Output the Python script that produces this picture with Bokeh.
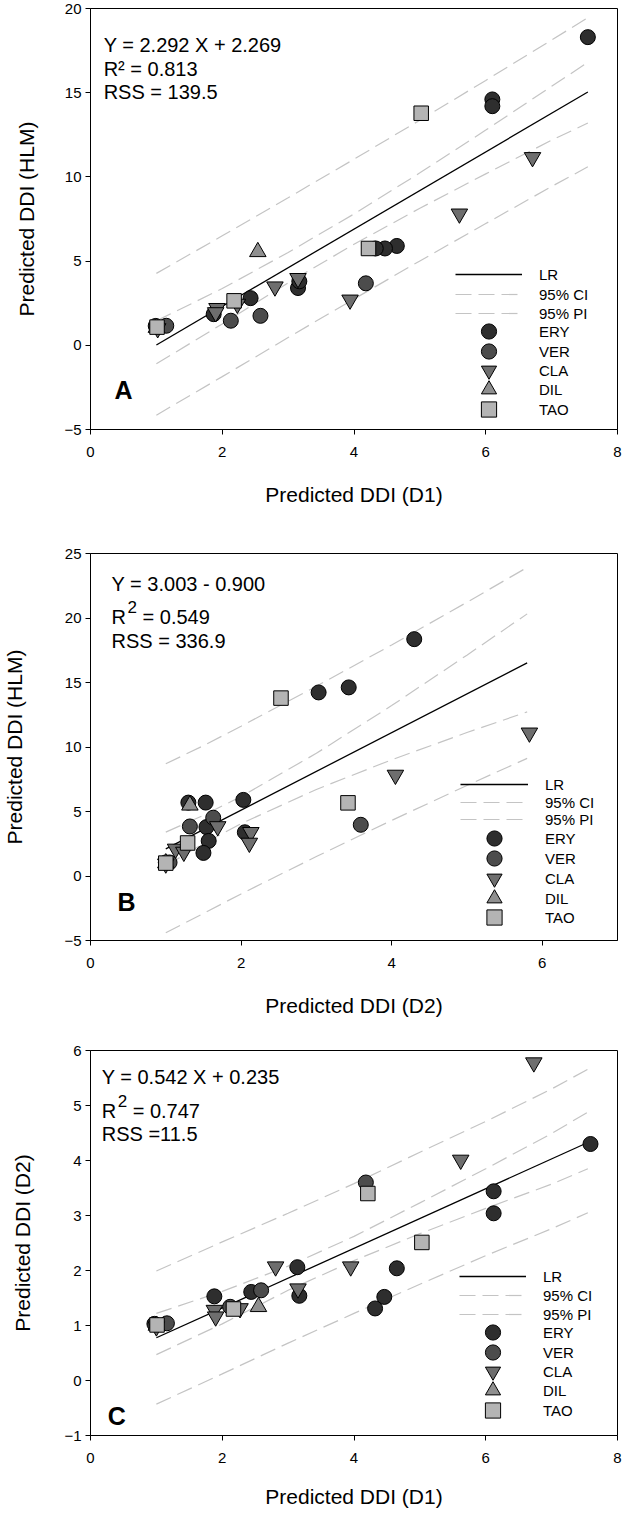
from bokeh.plotting import figure
from bokeh.models import Range1d, Label, Legend, LegendItem, FixedTicker
from bokeh.layouts import column
from bokeh.embed import file_html
from bokeh.resources import INLINE

FONT = "Liberation Sans"

# ---------------- Panel A : HLM vs D1 ----------------
a_ery_x = [7.55, 6.10, 6.10, 4.65, 4.47, 4.33, 3.15, 3.17, 2.43, 1.87, 0.99]
a_ery_y = [18.3, 14.6, 14.2, 5.9, 5.75, 5.75, 3.4, 3.8, 2.8, 1.85, 1.15]
a_ver_x = [4.18, 2.58, 2.13, 1.15]
a_ver_y = [3.68, 1.75, 1.46, 1.16]
a_cla_x = [6.71, 5.60, 2.80, 3.94, 3.15, 1.92, 1.90, 2.23, 1.02]
a_cla_y = [11.16, 7.81, 3.48, 2.70, 3.98, 2.20, 1.95, 2.45, 1.00]
a_dil_x = [2.54, 1.00]
a_dil_y = [5.55, 1.05]
a_tao_x = [5.02, 4.22, 2.18, 1.01]
a_tao_y = [13.78, 5.75, 2.64, 1.08]
a_lr_x = [1.0, 7.55]
a_lr_y = [0.02, 15.04]
a_band_x = [1.0, 2.0, 3.0, 4.0, 5.0, 6.0, 7.0, 7.55]
a_ci_up = [1.45, 3.37, 5.51, 7.80, 10.24, 12.78, 15.38, 16.80]
a_ci_lo = [-1.10, 1.27, 3.71, 6.00, 8.14, 10.18, 12.18, 13.20]
a_pi_up = [4.27, 6.50, 8.76, 11.05, 13.37, 15.73, 18.13, 19.45]
a_pi_lo = [-4.15, -1.86, 0.46, 2.75, 5.01, 7.23, 9.43, 10.60]

# ---------------- Panel B : HLM vs D2 ----------------
b_ery_x = [4.30, 3.03, 3.43, 2.03, 1.30, 1.53, 1.54, 2.05, 1.57, 1.50, 1.00]
b_ery_y = [18.36, 14.23, 14.62, 5.90, 5.69, 5.69, 3.79, 3.39, 2.72, 1.79, 1.05]
b_ver_x = [3.59, 1.63, 1.32, 1.05]
b_ver_y = [3.97, 4.52, 3.84, 1.05]
b_cla_x = [5.83, 4.05, 1.69, 2.13, 2.11, 1.13, 1.24, 1.00]
b_cla_y = [11.10, 7.83, 3.84, 3.39, 2.56, 2.10, 1.86, 0.95]
b_dil_x = [1.32, 1.00]
b_dil_y = [5.48, 1.00]
b_tao_x = [2.53, 3.42, 1.29, 1.00]
b_tao_y = [13.79, 5.67, 2.56, 1.00]
b_lr_x = [1.0, 5.8]
b_lr_y = [2.10, 16.52]
b_band_x = [1.0, 1.5, 2.0, 3.0, 4.0, 5.0, 5.8]
b_ci_up = [3.40, 4.70, 6.16, 9.51, 13.21, 17.12, 20.32]
b_ci_lo = [0.80, 2.50, 4.06, 6.71, 9.01, 11.12, 12.72]
b_pi_up = [8.70, 10.10, 11.61, 14.71, 17.91, 21.22, 23.92]
b_pi_lo = [-4.40, -2.90, -1.39, 1.51, 4.31, 7.02, 9.12]

# ---------------- Panel C : D2 vs D1 ----------------
c_ery_x = [7.59, 6.12, 6.12, 4.65, 4.46, 4.32, 3.14, 3.17, 2.44, 1.88, 0.97]
c_ery_y = [4.30, 3.44, 3.04, 2.04, 1.52, 1.31, 2.06, 1.54, 1.61, 1.53, 1.03]
c_ver_x = [4.18, 2.59, 2.12, 1.16]
c_ver_y = [3.60, 1.64, 1.34, 1.04]
c_cla_x = [6.73, 5.62, 2.81, 3.95, 3.15, 1.88, 1.90, 2.27, 1.00]
c_cla_y = [5.78, 4.01, 2.07, 2.07, 1.67, 1.28, 1.16, 1.31, 0.98]
c_dil_x = [2.55, 1.00]
c_dil_y = [1.34, 1.00]
c_tao_x = [4.21, 5.03, 2.17, 1.01]
c_tao_y = [3.40, 2.51, 1.30, 1.01]
c_lr_x = [1.0, 7.55]
c_lr_y = [0.777, 4.327]
c_band_x = [1.0, 2.0, 3.0, 4.0, 5.0, 6.0, 7.0, 7.55]
c_ci_up = [1.22, 1.62, 2.08, 2.62, 3.23, 3.85, 4.49, 4.88]
c_ci_lo = [0.47, 1.03, 1.64, 2.18, 2.67, 3.13, 3.57, 3.85]
c_pi_up = [1.99, 2.52, 3.04, 3.58, 4.15, 4.71, 5.30, 5.66]
c_pi_lo = [-0.43, 0.12, 0.68, 1.22, 1.75, 2.27, 2.76, 3.05]

legend_labels = ["LR", "95% CI", "95% PI", "ERY", "VER", "CLA", "DIL", "TAO"]
series_names = ["ERY", "VER", "CLA", "DIL", "TAO"]
series_markers = ["circle", "circle", "inverted_triangle", "triangle", "square"]
series_colors = ["#2e2e2e", "#4c4c4c", "#6e6e6e", "#8f8f8f", "#b4b4b4"]
series_sizes = [15, 15, 16.5, 16.5, 14.5]

BAND_COLOR = "#c4c4c4"
BAND_DASH = "16 7"


def make_panel(xr, yr, xticks, yticks, xlabel, ylabel, height, top, bottom,
               band_x, ci_up, ci_lo, pi_up, pi_lo, lr_x, lr_y, pts,
               leg_x, leg_rows, glyph_w, ylab_standoff, xlab_standoff):
    p = figure(width=623, height=height, x_range=Range1d(*xr), y_range=Range1d(*yr),
               output_backend="svg", toolbar_location=None,
               min_border_left=85, min_border_right=6,
               min_border_top=top, min_border_bottom=bottom)
    p.xgrid.visible = False
    p.ygrid.visible = False
    p.outline_line_color = "black"
    p.outline_line_alpha = 1.0
    p.outline_line_width = 1
    p.background_fill_color = "white"
    p.border_fill_color = "white"

    p.xaxis.ticker = FixedTicker(ticks=xticks)
    p.yaxis.ticker = FixedTicker(ticks=yticks)
    for ax in (p.xaxis, p.yaxis):
        ax.axis_line_color = "black"
        ax.major_tick_line_color = "black"
        ax.minor_tick_line_color = None
        ax.major_tick_in = 0
        ax.major_tick_out = 5
        ax.major_label_text_font = FONT
        ax.major_label_text_font_size = "15px"
        ax.major_label_text_color = "black"
        ax.axis_label_text_font = FONT
        ax.axis_label_text_font_size = "21px"
        ax.axis_label_text_font_style = "normal"
        ax.axis_label_text_color = "black"
    p.xaxis.major_label_standoff = 12
    p.yaxis.major_label_standoff = 4
    p.xaxis.axis_label = xlabel
    p.yaxis.axis_label = ylabel
    p.xaxis.axis_label_standoff = xlab_standoff
    p.yaxis.axis_label_standoff = ylab_standoff

    ciu = p.line(band_x, ci_up, line_color=BAND_COLOR, line_dash=BAND_DASH, line_width=1.2)
    p.line(band_x, ci_lo, line_color=BAND_COLOR, line_dash=BAND_DASH, line_width=1.2)
    piu = p.line(band_x, pi_up, line_color=BAND_COLOR, line_dash=BAND_DASH, line_width=1.2)
    p.line(band_x, pi_lo, line_color=BAND_COLOR, line_dash=BAND_DASH, line_width=1.2)
    lr = p.line(lr_x, lr_y, line_color="black", line_width=1.3)

    rends = [lr, ciu, piu]
    for (xs, ys), mk, col, sz in zip(pts, series_markers, series_colors, series_sizes):
        r = p.scatter(xs, ys, marker=mk, size=sz, fill_color=col,
                      line_color="black", line_width=1)
        rends.append(r)

    # one legend box per row so that rows can sit closer than the marker box
    for lab, r, vy in zip(legend_labels, rends, leg_rows):
        lg = Legend(items=[LegendItem(label=lab, renderers=[r])], location=(leg_x, vy),
                    glyph_width=glyph_w, glyph_height=38, label_standoff=17,
                    padding=0, margin=0, border_line_color=None,
                    background_fill_alpha=0, label_text_font=FONT,
                    label_text_font_size="15px", label_text_color="black")
        p.add_layout(lg)
    return p


def add_text(p, x, ys, lines, size="20px"):
    for y, t in zip(ys, lines):
        p.add_layout(Label(x=x, y=y, text=t, text_font=FONT, text_font_size=size,
                           text_baseline="middle", text_align="left",
                           text_color="black"))


def add_r2(p, x, y, val, size="20px"):
    p.add_layout(Label(x=x, y=y, text="R", text_font=FONT, text_font_size=size,
                       text_baseline="middle", text_align="left", text_color="black"))
    p.add_layout(Label(x=x, y=y, x_offset=16, y_offset=10, text="2", text_font=FONT,
                       text_font_size="17px", text_baseline="middle",
                       text_align="left", text_color="black"))
    p.add_layout(Label(x=x, y=y, x_offset=31, text="= " + val, text_font=FONT,
                       text_font_size=size, text_baseline="middle",
                       text_align="left", text_color="black"))


def add_letter(p, x, y, t):
    p.add_layout(Label(x=x, y=y, text=t, text_font=FONT, text_font_size="25px",
                       text_font_style="bold", text_baseline="middle",
                       text_align="center", text_color="black"))


pA = make_panel((0, 8), (-5, 20), [0, 2, 4, 6, 8], [-5, 0, 5, 10, 15, 20],
                "Predicted DDI (D1)", "Predicted DDI (HLM)", 519, 8, 90,
                a_band_x, a_ci_up, a_ci_lo, a_pi_up, a_pi_lo, a_lr_x, a_lr_y,
                [(a_ery_x, a_ery_y), (a_ver_x, a_ver_y), (a_cla_x, a_cla_y),
                 (a_dil_x, a_dil_y), (a_tao_x, a_tao_y)],
                365, [136, 116, 97, 79, 59, 40, 21, 1], 67, 23, 23)
add_text(pA, 0.2, [17.86, 16.38, 15.07],
         ["Y = 2.292 X + 2.269", "R\u00b2 = 0.813", "RSS = 139.5"])
add_letter(pA, 0.5, -2.68, "A")

pB = make_panel((0, 7), (-5, 25), [0, 2, 4, 6], [-5, 0, 5, 10, 15, 20, 25],
                "Predicted DDI (D2)", "Predicted DDI (HLM)", 503, 34, 82,
                b_band_x, b_ci_up, b_ci_lo, b_pi_up, b_pi_lo, b_lr_x, b_lr_y,
                [(b_ery_x, b_ery_y), (b_ver_x, b_ver_y), (b_cla_x, b_cla_y),
                 (b_dil_x, b_dil_y), (b_tao_x, b_tao_y)],
                370, [137, 119, 102, 83, 63, 43, 23, 4], 68, 35, 23)
add_text(pB, 0.28, [22.6, 18.2], ["Y = 3.003 - 0.900", "RSS = 336.9"])
add_r2(pB, 0.28, 20.04, "0.549")
add_letter(pB, 0.48, -2.0, "B")

pC = make_panel((0, 8), (-1, 6), [0, 2, 4, 6, 8], [-1, 0, 1, 2, 3, 4, 5, 6],
                "Predicted DDI (D1)", "Predicted DDI (D2)", 488, 28, 75,
                c_band_x, c_ci_up, c_ci_lo, c_pi_up, c_pi_lo, c_lr_x, c_lr_y,
                [(c_ery_x, c_ery_y), (c_ver_x, c_ver_y), (c_cla_x, c_cla_y),
                 (c_dil_x, c_dil_y), (c_tao_x, c_tao_y)],
                369, [140, 121, 102, 84, 64, 45, 26, 6], 67, 27, 19)
add_text(pC, 0.17, [5.51, 4.49], ["Y = 0.542 X + 0.235", "RSS =11.5"])
add_r2(pC, 0.17, 4.9, "0.747")
add_letter(pC, 0.4, -0.65, "C")

layout = column(pA, pB, pC, spacing=0)
open("out.html", "w").write(file_html(layout, INLINE))
